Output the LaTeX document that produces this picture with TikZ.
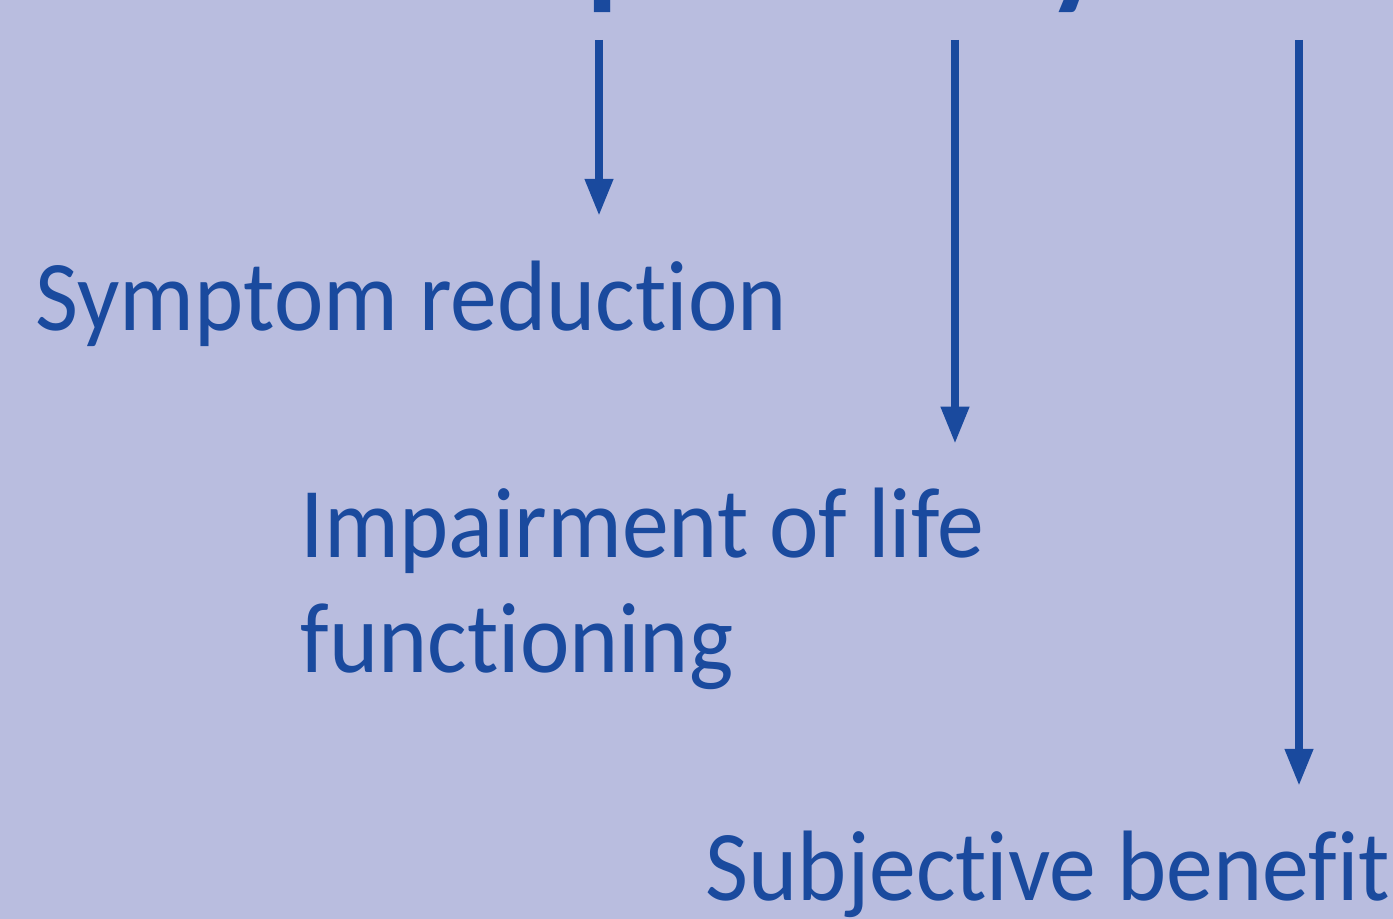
\documentclass[tikz,border=0pt]{standalone}
\usepackage{fontspec}
\setmainfont[Ligatures=NoCommon, FakeStretch=0.935]{Carlito}
\usetikzlibrary{positioning,arrows.meta}
\definecolor{bgblue}{RGB}{185,189,223}
\definecolor{inkblue}{RGB}{26,74,158}
\tikzset{every picture/.style={line width=0.8pt}}

\begin{document}
\begin{tikzpicture}[x=0.02cm, y=-0.02cm,
    label text/.style={inner sep=0pt, anchor=base west, text=inkblue, font=\fontsize{57}{65}\selectfont},
    title text/.style={inner sep=0pt, anchor=base west, text=inkblue, font=\fontsize{80}{90}\selectfont\bfseries},
    down arrow/.style={draw=inkblue, line width=4.3pt, -{Triangle[length=0.74cm, width=0.54cm]}, shorten >=0.88cm}]
    % Page and background
\useasboundingbox (0,0) rectangle (1393,919);
\fill[bgblue] (0,0) rectangle (1393,919);
    % Title cut off at the top edge
\begin{scope}
\clip (0,0) rectangle (1393,919);
\node[title text] (ttlp) at (586,-9) {p};
\node[title text] (ttly) at (1046,-9) {y};
\end{scope}
    % Outcome labels
\node[label text] (sym) at (35,330) {Symptom reduction};
\node[label text, align=left] (imp) at (300,672) {Impairment of life\\functioning};
\node[label text] (sub) at (705,900) {Subjective benefit};
    % Arrow starts
\coordinate (a1) at (599,40);
\coordinate (a2) at (955,40);
\coordinate (a3) at (1299,40);
    % Connections
\draw[down arrow] (a1) -- (a1 |- sym.north);
\draw[down arrow] (a2) -- (a2 |- imp.north);
\draw[down arrow] (a3) -- (a3 |- sub.north);
\end{tikzpicture}
\end{document}
